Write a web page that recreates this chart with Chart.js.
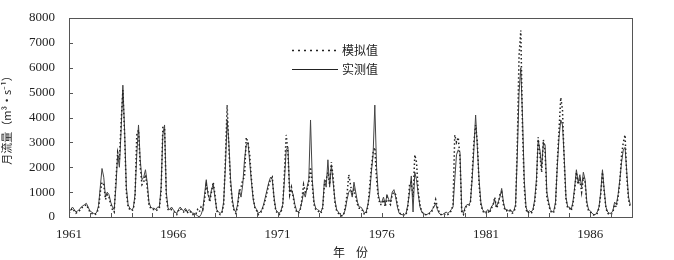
<!DOCTYPE html>
<html lang="zh">
<head>
  <meta charset="UTF-8" />
  <title>月流量 模拟值与实测值</title>
  <script src="https://cdn.jsdelivr.net/npm/chart.js"></script>
  <style>
    body { margin: 0; padding: 0; background: #fff; }
    .chart-container { width: 674px; height: 260px; position: relative; }
  </style>
</head>
<body>
  <div class="chart-container">
    <canvas id="flowChart"></canvas>
  </div>

  <script>
    const startYear = 1961;
    const endYear = 1988;
    const labelYears = [1961, 1966, 1971, 1976, 1981, 1986];
    const yTicks = [0, 1000, 2000, 3000, 4000, 5000, 6000, 7000, 8000];
    const seriesNames = ['模拟值', '实测值'];

    // monthly observed flow, one row per year 1961-1987
    const observed = [
      200, 300, 400, 300, 200, 250, 300, 400, 450, 500, 550, 400,
      250, 200, 150, 120, 200, 450, 1200, 1950, 1600, 800, 1000, 900,
      600, 400, 300, 1200, 2500, 2000, 3500, 5300, 3500, 1200, 500, 350,
      300, 350, 900, 2500, 3700, 2300, 1500, 1600, 1900, 1400, 600, 400,
      350, 350, 300, 400, 400, 1200, 3300, 3700, 1000, 350, 300, 400,
      300, 200, 150, 300, 400, 300, 250, 350, 200, 300, 250, 150,
      150, 100, 50, 0, 100, 300, 900, 1500, 900, 700, 1100, 1300,
      800, 300, 200, 150, 200, 600, 2000, 3900, 3000, 1500, 700, 300,
      200, 500, 1100, 800, 1300, 2300, 2900, 3000, 2200, 1400, 700, 400,
      300, 150, 200, 300, 500, 800, 1100, 1400, 1600, 1500, 800, 300,
      200, 150, 250, 500, 1500, 2700, 2800, 1000, 1100, 900, 500, 250,
      200, 300, 600, 1000, 800, 1200, 1500, 3900, 1500, 600, 350, 300,
      250, 200, 400, 1500, 1200, 2300, 1200, 2100, 1400, 700, 300, 200,
      100, 50, 100, 300, 700, 1000, 1100, 800, 1400, 1000, 600, 400,
      400, 300, 150, 200, 500, 900, 1800, 2500, 4500, 2000, 900, 600,
      600, 800, 500, 900, 700, 600, 1000, 1100, 800, 400, 150, 100,
      100, 80, 150, 500, 1000, 1650, 200, 1800, 1500, 900, 400, 200,
      150, 100, 100, 150, 200, 300, 400, 550, 300, 150, 100, 100,
      150, 200, 150, 200, 300, 400, 1500, 2500, 2700, 2600, 300, 150,
      400, 500, 500, 600, 1500, 2700, 4100, 2800, 1500, 600, 300, 200,
      200, 300, 200, 400, 500, 700, 400, 600, 800, 1150, 600, 300,
      300, 250, 300, 200, 250, 500, 2500, 5000, 6000, 4000, 1500, 400,
      200, 250, 200, 300, 700, 1500, 3100, 2700, 2000, 3000, 2900, 1000,
      600, 300, 200, 250, 600, 2000, 3200, 3900, 3700, 2400, 800, 400,
      400, 300, 600, 1200, 1900, 1400, 1700, 1200, 1800, 1500, 600, 300,
      250, 150, 100, 100, 200, 400, 1000, 1900, 1100, 400, 200, 150,
      150, 250, 600, 500, 900, 1500, 2200, 2700, 2800, 1800, 800, 500
    ];

    // monthly simulated flow, same layout
    const simulated = [
      150, 250, 350, 250, 150, 200, 250, 350, 400, 450, 500, 350,
      200, 150, 100, 100, 150, 350, 1000, 1400, 1300, 700, 900, 800,
      500, 300, 200, 1500, 2600, 2300, 3800, 5100, 3300, 1000, 400, 300,
      250, 300, 800, 3300, 3500, 2000, 1300, 1400, 1700, 1200, 500, 350,
      300, 300, 250, 300, 350, 1000, 3600, 3600, 800, 300, 250, 300,
      250, 150, 100, 250, 350, 250, 200, 300, 150, 250, 200, 100,
      100, 100, 300, 200, 400, 300, 700, 1300, 1000, 600, 1000, 1400,
      900, 250, 150, 100, 150, 500, 2300, 4500, 2800, 1300, 600, 250,
      150, 400, 1000, 1200, 1500, 1600, 3200, 3000, 2500, 1500, 800, 350,
      250, 100, 150, 250, 450, 700, 1000, 1300, 1500, 1600, 700, 250,
      150, 100, 200, 450, 1800, 3300, 2600, 900, 1200, 800, 400, 200,
      150, 250, 700, 1300, 1000, 1100, 1400, 2000, 1300, 500, 300, 250,
      200, 150, 350, 1300, 1500, 1800, 1300, 2200, 1600, 600, 250, 150,
      80, 40, 80, 400, 900, 1700, 1300, 900, 1100, 800, 500, 350,
      350, 250, 100, 150, 400, 1200, 2000, 2600, 2800, 1500, 800, 500,
      500, 700, 400, 800, 600, 500, 900, 1000, 900, 500, 200, 100,
      80, 60, 100, 400, 1300, 1400, 800, 2500, 2200, 1000, 500, 200,
      150, 100, 80, 120, 150, 250, 450, 700, 400, 200, 100, 80,
      100, 150, 100, 150, 250, 500, 3300, 3000, 3200, 2400, 200, 100,
      350, 450, 450, 550, 1700, 3000, 3700, 3000, 1300, 500, 250, 150,
      150, 250, 150, 350, 450, 800, 350, 500, 900, 1000, 500, 250,
      250, 200, 250, 150, 200, 400, 3000, 6500, 7500, 3500, 1200, 300,
      150, 200, 150, 250, 600, 1300, 3200, 2500, 1800, 3100, 2600, 800,
      500, 250, 150, 200, 500, 2200, 3500, 4800, 4300, 2200, 700, 350,
      350, 250, 500, 1100, 1800, 1300, 1500, 1000, 1600, 1400, 500, 250,
      200, 100, 80, 80, 150, 350, 900, 1800, 1000, 350, 150, 100,
      100, 200, 500, 400, 800, 1400, 2500, 3000, 3300, 1600, 700, 400
    ];

    const toPoints = arr => arr.map((v, i) => ({ x: startYear + i / 12, y: v }));

    const serif = "'Liberation Serif', 'Times New Roman', serif";
    const cjk = "'Noto Sans CJK SC', sans-serif";

    // inner ticks, frame and in-plot legend
    const framePlugin = {
      id: 'frame',
      afterDraw(chart) {
        const { ctx, chartArea: a, scales } = chart;
        ctx.save();
        ctx.strokeStyle = '#555';
        ctx.lineWidth = 1;
        ctx.strokeRect(a.left + 0.5, a.top + 0.5, a.right - a.left, a.bottom - a.top);
        ctx.beginPath();
        for (let yr = startYear + 1; yr < endYear; yr++) {
          const px = Math.round(scales.x.getPixelForValue(yr)) + 0.5;
          ctx.moveTo(px, a.bottom);
          ctx.lineTo(px, a.bottom - 4);
        }
        yTicks.slice(1, -1).forEach(v => {
          const py = Math.round(scales.y.getPixelForValue(v)) + 0.5;
          ctx.moveTo(a.left, py);
          ctx.lineTo(a.left + 4, py);
        });
        ctx.stroke();

        // legend
        const lx = 292, lw = 46;
        const rows = [{ y: 50, ds: chart.data.datasets[0] }, { y: 69, ds: chart.data.datasets[1] }];
        rows.forEach(r => {
          ctx.beginPath();
          ctx.strokeStyle = '#222';
          ctx.lineWidth = r.ds.borderDash ? 1.5 : 1;
          ctx.setLineDash(r.ds.borderDash ? [2, 4] : []);
          ctx.moveTo(lx, r.y + 0.5);
          ctx.lineTo(lx + lw, r.y + 0.5);
          ctx.stroke();
          ctx.setLineDash([]);
          ctx.fillStyle = '#222';
          ctx.font = '12px ' + cjk;
          ctx.textBaseline = 'middle';
          ctx.fillText(r.ds.label, lx + lw + 4, r.y);
        });
        ctx.restore();
      }
    };

    const ctx = document.getElementById('flowChart').getContext('2d');
    const chart = new Chart(ctx, {
      type: 'line',
      data: {
        datasets: [
          {
            label: seriesNames[0],
            data: toPoints(simulated),
            borderColor: '#222',
            borderWidth: 1.5,
            borderDash: [1.5, 2.5],
            pointRadius: 0,
            tension: 0
          },
          {
            label: seriesNames[1],
            data: toPoints(observed),
            borderColor: '#444',
            borderWidth: 1,
            pointRadius: 0,
            tension: 0
          }
        ]
      },
      options: {
        responsive: true,
        maintainAspectRatio: false,
        animation: false,
        layout: { padding: { left: 0, right: 42, top: 18, bottom: 0 } },
        plugins: {
          legend: { display: false },
          tooltip: { enabled: false }
        },
        scales: {
          x: {
            type: 'linear',
            min: startYear,
            max: endYear,
            afterFit(scale) { scale.height = 43; },
            afterBuildTicks(scale) {
              scale.ticks = labelYears.map(v => ({ value: v }));
            },
            ticks: {
              color: '#222',
              font: { family: serif, size: 13 },
              padding: 2,
              maxRotation: 0,
              callback: v => String(v)
            },
            grid: { display: false },
            border: { display: false },
            title: {
              display: true,
              text: '年    份',
              color: '#222',
              font: { family: cjk, size: 12 },
              padding: { top: 2, bottom: 0 }
            }
          },
          y: {
            min: 0,
            max: 8000,
            afterFit(scale) { scale.width = 69; },
            afterBuildTicks(scale) {
              scale.ticks = yTicks.map(v => ({ value: v }));
            },
            ticks: {
              color: '#222',
              font: { family: serif, size: 13 },
              padding: 6,
              callback: v => String(v)
            },
            grid: { display: false },
            border: { display: false },
            title: {
              display: true,
              text: '月流量（m³·s⁻¹）',
              color: '#222',
              font: { family: cjk, size: 11 },
              padding: { top: 0, bottom: 2 }
            }
          }
        }
      },
      plugins: [framePlugin]
    });
  </script>
</body>
</html>
